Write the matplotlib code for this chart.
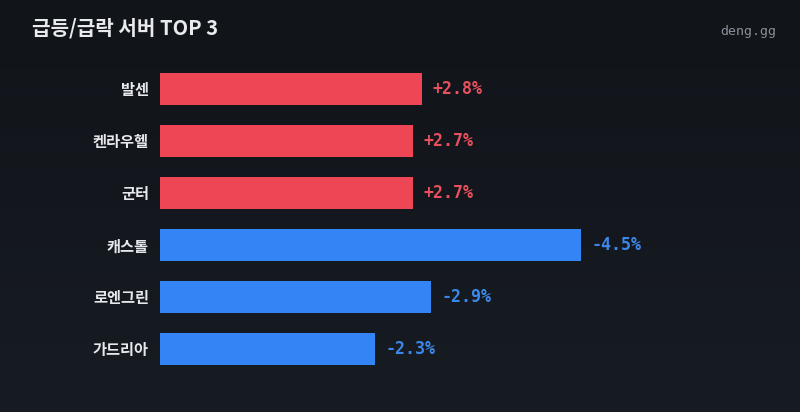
import numpy as np
import matplotlib.pyplot as plt
from matplotlib.colors import LinearSegmentedColormap

plt.rcParams['font.family'] = ['Noto Sans CJK KR', 'DejaVu Sans']

servers = ["발센", "켄라우헬", "군터", "캐스톨", "로엔그린", "가드리아"]
changes = [2.8, 2.7, 2.7, -4.5, -2.9, -2.3]
labels = ["+2.8%", "+2.7%", "+2.7%", "-4.5%", "-2.9%", "-2.3%"]

UP = "#ef4656"
DOWN = "#3384f5"
UP_TXT = "#e9505d"
DOWN_TXT = "#3c88ea"

W, H = 800, 412
fig = plt.figure(figsize=(W / 100, H / 100), dpi=100)

# background gradient
bg = fig.add_axes([0, 0, 1, 1])
cmap = LinearSegmentedColormap.from_list("bg", ["#111419", "#171c23"])
bg.imshow(np.linspace(0, 1, 256).reshape(-1, 1), aspect="auto", cmap=cmap,
          extent=[0, 1, 0, 1], origin="upper")
bg.axis("off")

# plot area in pixels: left 160, right 740, rows centered at 89..349 (step 52)
left, right = 160, 740
top, bottom = 63, 375
ax = fig.add_axes([left / W, 1 - bottom / H, (right - left) / W, (bottom - top) / H])
ax.set_facecolor("none")

y = np.arange(len(servers))
vals = np.abs(changes)
colors = [UP if c > 0 else DOWN for c in changes]
ax.barh(y, vals, height=0.6, color=colors)
ax.set_ylim(len(servers) - 0.5, -0.5)
ax.set_xlim(0, (right - left) / 93.6)

for i, (v, lab, c) in enumerate(zip(vals, labels, changes)):
    ax.annotate(lab, (v, i), xytext=(7.5, 0), textcoords="offset points",
                va="center", ha="left", fontsize=12, fontweight="bold",
                family="DejaVu Sans Mono", color=UP_TXT if c > 0 else DOWN_TXT)

ax.set_yticks(y)
ax.set_yticklabels(servers, fontsize=11, fontweight="bold", color="#e6e8eb")
ax.tick_params(axis="y", length=0, pad=8)
ax.set_xticks([])
for s in ax.spines.values():
    s.set_visible(False)

fig.text(32 / W, 1 - 28 / H, "급등/급락 서버 TOP 3", fontsize=14.5, fontweight="bold",
         color="#e8eaed", va="center", ha="left")
fig.text(776 / W, 1 - 31 / H, "deng.gg", fontsize=9.5, family="DejaVu Sans Mono",
         color="#8a9099", va="center", ha="right")

fig.savefig("out.png", dpi=100)
